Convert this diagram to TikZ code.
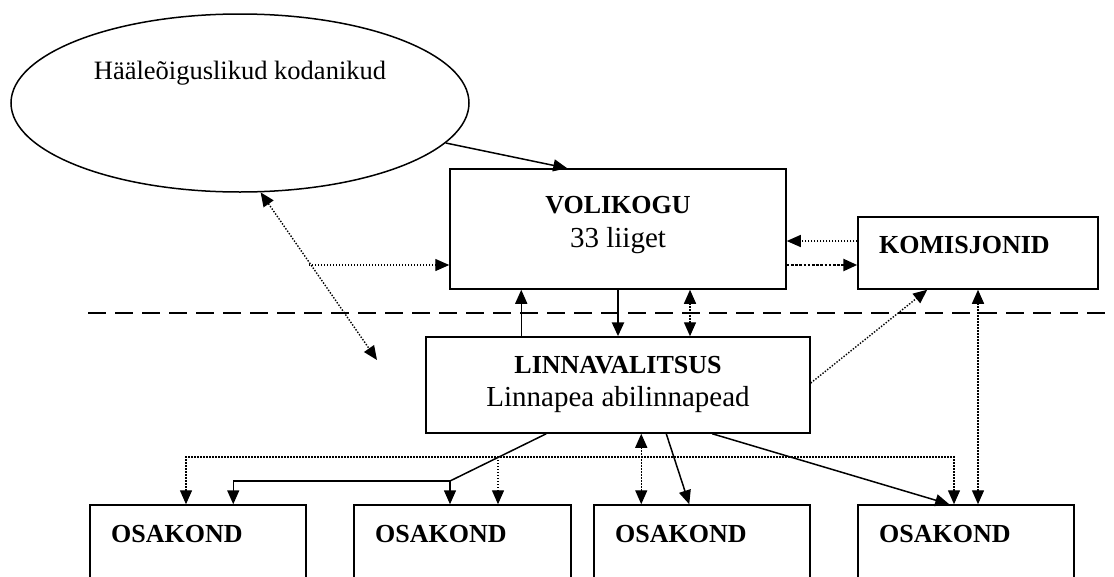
\documentclass[tikz,border=0pt]{standalone}
\usepackage{fontspec}
\setmainfont{Liberation Serif}
\usetikzlibrary{arrows.meta,shapes.geometric}
\begin{document}
\begin{tikzpicture}[x=1pt,y=-1pt,
 box/.style={draw,line width=1.5pt,rectangle,inner sep=0pt},
 bt/.style={font=\fontsize{26}{30}\selectfont\bfseries,inner sep=0pt},
 rt/.style={font=\fontsize{29}{34}\selectfont,inner sep=0pt},
 tip/.style={-{Triangle[length=14pt,width=12pt]}},
 tips/.style={{Triangle[length=14pt,width=12pt]}-{Triangle[length=14pt,width=12pt]}},
 sline/.style={line width=1.5pt},
 tline/.style={line width=2.6pt},
 dotline/.style={line width=1.4pt,dash pattern=on 1.4pt off 1.6pt},
 thickdot/.style={line width=2.6pt,dash pattern=on 2.6pt off 1.6pt},
 dashline/.style={line width=1.5pt,dash pattern=on 18pt off 9pt}
]
\useasboundingbox (0,0) rectangle (1114,576);
\clip (0,0) rectangle (1114,576);

% ellipse
\node[draw,ellipse,line width=1.5pt,minimum width=458pt,minimum height=178pt,inner sep=0pt] (ell) at (240,103) {};
\node[font=\fontsize{26.5}{30}\selectfont,anchor=base,inner sep=0pt] (elltxt) at (240,79) {Hääleõiguslikud kodanikud};

% boxes
\node[box,minimum width=336pt,minimum height=120pt] (vol) at (618,229) {};
\node[bt,anchor=base] (volt1) at (618,213) {VOLIKOGU};
\node[rt,anchor=base] (volt2) at (618,247) {33 liiget};

\node[box,minimum width=240pt,minimum height=72pt] (kom) at (978,253) {};
\node[bt,anchor=base west] (komt) at (879,253) {KOMISJONID};

\node[box,minimum width=384pt,minimum height=96pt] (lv) at (618,385) {};
\node[bt,anchor=base] (lvt1) at (618,373) {LINNAVALITSUS};
\node[rt,anchor=base] (lvt2) at (618,406) {Linnapea abilinnapead};

\node[box,minimum width=216pt,minimum height=100pt] (o1) at (198,555) {};
\node[box,minimum width=217pt,minimum height=100pt] (o2) at (462.5,555) {};
\node[box,minimum width=216pt,minimum height=100pt] (o3) at (702,555) {};
\node[box,minimum width=216pt,minimum height=100pt] (o4) at (966,555) {};
\node[bt,anchor=base west] (o1t) at (111,542) {OSAKOND};
\node[bt,anchor=base west] (o2t) at (375,542) {OSAKOND};
\node[bt,anchor=base west] (o3t) at (615,542) {OSAKOND};
\node[bt,anchor=base west] (o4t) at (879,542) {OSAKOND};

% dashed divider
\coordinate (dl) at (88,313);
\coordinate (dr) at (1114,313);
\draw[dashline] (dl) -- (dr);

% ellipse connectors
\draw[sline,tip] (ell.-11.7) -- ([xshift=118pt]vol.north west);
\coordinate (free) at (377,360);
\draw[dotline,tips] (ell.-77) -- (free);
\coordinate (dj) at (309,265);
\draw[dotline,tip] (dj) -- (dj -| vol.west);

% volikogu - komisjonid
\coordinate (k1) at ([yshift=12pt]kom.west);
\draw[dotline,tip] (k1) -- (k1 -| vol.east);
\coordinate (v1) at ([yshift=-36pt]vol.east);
\draw[thickdot,tip] (v1) -- (v1 -| kom.west);

% volikogu - linnavalitsus
\coordinate (l1) at ([xshift=96pt]lv.north west);
\draw[sline,tip] (l1) -- (l1 |- vol.south);
\draw[tline,tip] (vol.south) -- (lv.north);
\coordinate (v2) at ([xshift=72pt]vol.south);
\draw[dotline,tips] (v2) -- (v2 |- lv.north);

% linnavalitsus - komisjonid
\draw[dotline,tip] ([yshift=2pt]lv.east) -- ([xshift=70pt]kom.south west);
\draw[dotline,tips] (kom.south) -- (kom.south |- o4.north);

% linnavalitsus - osakonnad (solid)
\coordinate (br) at (450,481);
\draw[sline,line join=miter] ([xshift=121pt]lv.south west) -- (br);
\draw[sline,tip] (br) -- (br |- o2.north);
\draw[sline,tip] (br) -| ([xshift=144pt]o1.north west);
\draw[sline,tip] ([xshift=241pt]lv.south west) -- ([xshift=96pt]o3.north west);
\draw[sline,tip] ([xshift=287pt]lv.south west) -- ([xshift=92pt]o4.north west);

% dotted bus
\coordinate (bl) at (186,457);
\coordinate (bm) at (498,457);
\coordinate (bx) at (954,457);
\draw[dotline,tips] (bl |- o1.north) -- (bl) -- (bx) -- (bx |- o4.north);
\draw[dotline,tip] (bm) -- (bm |- o2.north);
\coordinate (l2) at ([xshift=216pt]lv.south west);
\draw[dotline,tips] (l2) -- (l2 |- o3.north);
\end{tikzpicture}
\end{document}
